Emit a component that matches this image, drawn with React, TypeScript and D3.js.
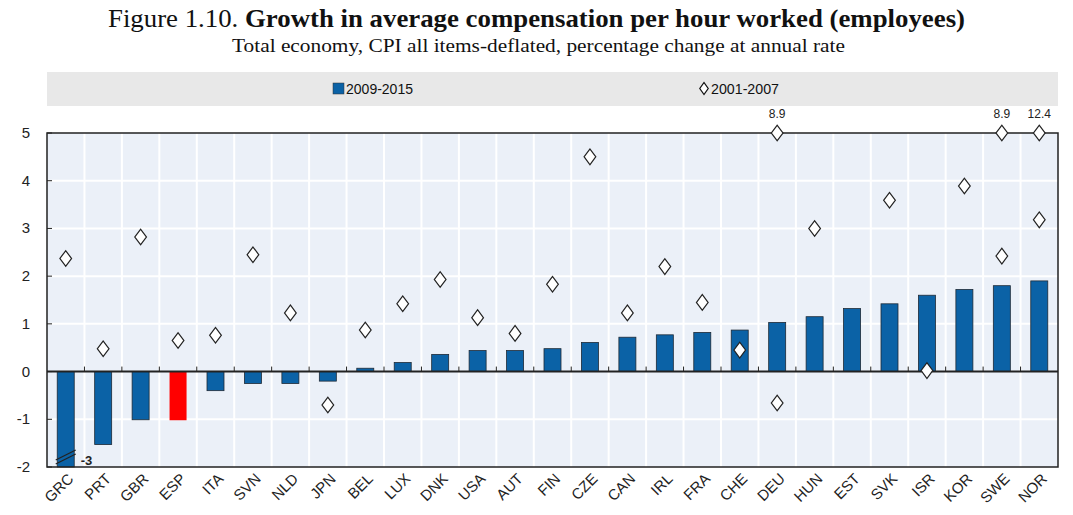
import React, { useEffect, useRef } from 'react';
import * as d3 from 'd3';

const countries: string[] = [
  'GRC', 'PRT', 'GBR', 'ESP', 'ITA', 'SVN', 'NLD', 'JPN', 'BEL', 'LUX', 'DNK', 'USA', 'AUT', 'FIN',
  'CZE', 'CAN', 'IRL', 'FRA', 'CHE', 'DEU', 'HUN', 'EST', 'SVK', 'ISR', 'KOR', 'SWE', 'NOR',
];
// 2009-2015 bars
const growth2009: number[] = [
  -3, -1.53, -1.01, -1.02, -0.4, -0.25, -0.25, -0.2, 0.07, 0.19, 0.36, 0.44, 0.44, 0.48,
  0.61, 0.72, 0.77, 0.82, 0.87, 1.03, 1.15, 1.32, 1.42, 1.6, 1.72, 1.8, 1.9,
];
// 2001-2007 diamonds (null = none shown)
const growth2001: (number | null)[] = [
  2.37, 0.48, 2.82, 0.65, 0.76, 2.45, 1.23, -0.7, 0.87, 1.42, 1.93, 1.13, 0.8, 1.83,
  4.5, 1.23, 2.2, 1.45, 0.45, -0.66, 3.0, null, 3.59, 0.02, 3.89, 2.42, 3.18,
];
// 2001-2007 values off the top of the scale
const offScale: { country: string; value: number }[] = [
  { country: 'DEU', value: 8.9 },
  { country: 'SWE', value: 8.9 },
  { country: 'NOR', value: 12.4 },
];
const yTicks: number[] = [-2, -1, 0, 1, 2, 3, 4, 5];
const highlight = 'ESP';

const W = 1073;
const H = 515;

const App: React.FC = () => {
  const ref = useRef<SVGSVGElement | null>(null);

  useEffect(() => {
    if (!ref.current) return;
    const svg = d3.select(ref.current);
    svg.selectAll('*').remove();

    const left = 47;
    const right = 1058;
    const top = 133;
    const bottom = 467;
    const blue = '#0B62A6';
    const sans = "'Liberation Sans', Arial, sans-serif";
    const serif = "'Liberation Serif', 'DejaVu Serif', serif";

    const x = d3.scaleBand<string>().domain(countries).range([left, right]);
    const y = d3.scaleLinear().domain([-2, 5]).range([bottom, top]);
    const yc = (v: number) => y(Math.max(-2, Math.min(5, v)));
    const cx = (c: string) => (x(c) || 0) + x.bandwidth() / 2;

    // Title
    const title = svg
      .append('text')
      .attr('x', 108)
      .attr('y', 27)
      .attr('font-family', serif)
      .attr('font-size', 25)
      .attr('textLength', 857)
      .attr('lengthAdjust', 'spacingAndGlyphs')
      .attr('fill', '#111');
    title.append('tspan').text('Figure 1.10.  ');
    title.append('tspan').attr('font-weight', 'bold').text('Growth in average compensation per hour worked (employees)');

    svg
      .append('text')
      .attr('x', 232)
      .attr('y', 52)
      .attr('font-family', serif)
      .attr('font-size', 18.5)
      .attr('textLength', 613)
      .attr('lengthAdjust', 'spacingAndGlyphs')
      .attr('fill', '#111')
      .text('Total economy, CPI all items-deflated, percentage change at annual rate');

    // Legend
    svg.append('rect').attr('x', left).attr('y', 72).attr('width', right - left).attr('height', 34).attr('fill', '#E8E8E8');
    svg.append('rect').attr('x', 333).attr('y', 83).attr('width', 11).attr('height', 11).attr('fill', blue).attr('stroke', '#333').attr('stroke-width', 0.5);
    svg.append('text').attr('x', 346).attr('y', 94).attr('font-family', sans).attr('font-size', 15).attr('textLength', 67).attr('lengthAdjust', 'spacingAndGlyphs').attr('fill', '#111').text('2009-2015');
    svg
      .append('path')
      .attr('d', d3.symbol(d3.symbolDiamond, 40)())
      .attr('transform', 'translate(704,88.5) scale(1.25,1)')
      .attr('fill', 'white')
      .attr('stroke', '#111')
      .attr('stroke-width', 1);
    svg.append('text').attr('x', 711).attr('y', 94).attr('font-family', sans).attr('font-size', 15).attr('textLength', 68).attr('lengthAdjust', 'spacingAndGlyphs').attr('fill', '#111').text('2001-2007');

    // Plot background and grid
    svg.append('rect').attr('x', left).attr('y', top).attr('width', right - left).attr('height', bottom - top).attr('fill', '#EBF0F8');
    svg
      .append('g')
      .selectAll('line')
      .data(countries.slice(1))
      .join('line')
      .attr('x1', (d) => x(d) || 0)
      .attr('x2', (d) => x(d) || 0)
      .attr('y1', top)
      .attr('y2', bottom)
      .attr('stroke', 'white')
      .attr('stroke-width', 2);
    svg
      .append('g')
      .selectAll('line')
      .data(yTicks.filter((t) => t !== 0 && t !== 5 && t !== -2))
      .join('line')
      .attr('x1', left)
      .attr('x2', right)
      .attr('y1', (d) => y(d))
      .attr('y2', (d) => y(d))
      .attr('stroke', 'white')
      .attr('stroke-width', 2);

    // Bars
    svg
      .append('g')
      .selectAll('rect')
      .data(countries)
      .join('rect')
      .attr('x', (d) => cx(d) - 8.5)
      .attr('width', 17)
      .attr('y', (_, i) => Math.min(yc(growth2009[i]), y(0)))
      .attr('height', (_, i) => Math.abs(yc(growth2009[i]) - y(0)))
      .attr('fill', (d) => (d === highlight ? '#FF0000' : blue))
      .attr('stroke', (d) => (d === highlight ? 'none' : '#1f2a36'))
      .attr('stroke-width', 0.8);

    // Break marker on clipped bar (GRC)
    countries.forEach((c, i) => {
      if (growth2009[i] >= -2) return;
      const bx = cx(c);
      const by = y(-2) - 8;
      [0, 4].forEach((o) => {
        svg
          .append('line')
          .attr('x1', bx - 10)
          .attr('x2', bx + 10)
          .attr('y1', by + 5 - o)
          .attr('y2', by - 5 - o)
          .attr('stroke', '#222')
          .attr('stroke-width', 1.2);
      });
      svg
        .append('text')
        .attr('x', bx + 15)
        .attr('y', by + 6)
        .attr('font-family', sans)
        .attr('font-weight', 'bold')
        .attr('font-size', 13)
        .attr('fill', '#222')
        .text(String(growth2009[i]));
    });

    // Frame and zero line
    svg.append('rect').attr('x', left).attr('y', top).attr('width', right - left).attr('height', bottom - top).attr('fill', 'none').attr('stroke', '#222').attr('stroke-width', 1.5);
    svg.append('line').attr('x1', left).attr('x2', right).attr('y1', y(0)).attr('y2', y(0)).attr('stroke', '#222').attr('stroke-width', 2);

    // Small ticks
    svg
      .append('g')
      .selectAll('line')
      .data(countries.slice(1))
      .join('line')
      .attr('x1', (d) => x(d) || 0)
      .attr('x2', (d) => x(d) || 0)
      .attr('y1', y(0))
      .attr('y2', y(0) - 5)
      .attr('stroke', '#222')
      .attr('stroke-width', 1);
    svg
      .append('g')
      .selectAll('line')
      .data(yTicks)
      .join('line')
      .attr('x1', left)
      .attr('x2', left + 5)
      .attr('y1', (d) => y(d))
      .attr('y2', (d) => y(d))
      .attr('stroke', '#222')
      .attr('stroke-width', 1);

    // Diamonds
    const diamond = d3.symbol(d3.symbolDiamond, 70)();
    svg
      .append('g')
      .selectAll('path')
      .data(countries.map((c, i) => ({ c, v: growth2001[i] })).filter((d) => d.v !== null))
      .join('path')
      .attr('d', diamond)
      .attr('transform', (d) => `translate(${cx(d.c)},${yc(d.v as number)}) scale(1.3,1)`)
      .attr('fill', 'white')
      .attr('stroke', '#222')
      .attr('stroke-width', 1);

    const off = svg.append('g');
    off
      .selectAll('path')
      .data(offScale)
      .join('path')
      .attr('d', diamond)
      .attr('transform', (d) => `translate(${cx(d.country)},${yc(d.value)}) scale(1.3,1)`)
      .attr('fill', 'white')
      .attr('stroke', '#222')
      .attr('stroke-width', 1);
    off
      .selectAll('text')
      .data(offScale)
      .join('text')
      .attr('x', (d) => cx(d.country))
      .attr('y', top - 15)
      .attr('text-anchor', 'middle')
      .attr('font-family', sans)
      .attr('font-size', 12)
      .attr('fill', '#222')
      .text((d) => d.value.toFixed(1));

    // Y tick labels
    svg
      .append('g')
      .selectAll('text')
      .data(yTicks)
      .join('text')
      .attr('x', 30)
      .attr('y', (d) => y(d) + 5)
      .attr('text-anchor', 'end')
      .attr('font-family', sans)
      .attr('font-size', 15)
      .attr('fill', '#222')
      .text((d) => String(d));

    // X labels
    svg
      .append('g')
      .selectAll('text')
      .data(countries)
      .join('text')
      .attr('transform', (d) => `translate(${cx(d) + 5},${bottom + 9}) rotate(-45)`)
      .attr('text-anchor', 'end')
      .attr('dy', '0.35em')
      .attr('font-family', sans)
      .attr('font-size', 15)
      .attr('fill', '#222')
      .text((d) => d);
  }, []);

  return <svg ref={ref} width={W} height={H} style={{ display: 'block', margin: '-8px' }} />;
};

export default App;
